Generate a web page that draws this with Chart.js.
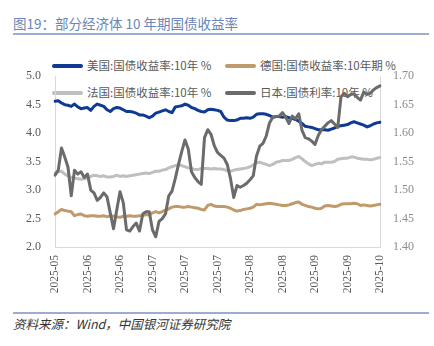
<!DOCTYPE html>
<html>
<head>
<meta charset="utf-8">
<script src="https://cdn.jsdelivr.net/npm/chart.js"></script>
<style>
  body { margin: 0; width: 434px; height: 346px; background: #fff; position: relative; overflow: hidden; font-family: "Noto Sans CJK SC", sans-serif; }
  #title { position: absolute; left: 13px; top: 13px; font-size: 13.5px; color: #6a85b6; white-space: nowrap; }
  #titleLine { position: absolute; left: 13px; top: 33px; width: 416px; height: 2px; background: #9aaed2; }
  #footLine { position: absolute; left: 13px; top: 312px; width: 416px; height: 2px; background: #9aaed2; }
  #foot { position: absolute; left: 13px; top: 314px; font-size: 12.5px; color: #333; font-style: italic; white-space: nowrap; }
  .lg { position: absolute; font-size: 11.5px; color: #595959; white-space: nowrap; z-index: 0; }
  .lg i { display: inline-block; width: 31px; height: 4px; border-radius: 2px; vertical-align: middle; margin-right: 4px; position: relative; top: -1px; }
  #wrap { position: absolute; left: 0; top: 55px; width: 434px; height: 250px; z-index: 1; }
</style>
</head>
<body>
<div id="title">图19：部分经济体 10 年期国债收益率</div>
<div id="titleLine"></div>

<div class="lg" style="left:52px; top:57px;"><i style="background:#0e3a92"></i>美国:国债收益率:10年 %</div>
<div class="lg" style="left:225px; top:57px;"><i style="background:#c09a6b"></i>德国:国债收益率:10年期 %</div>
<div class="lg" style="left:52px; top:84px;"><i style="background:#bfbfbf"></i>法国:国债收益率:10年 %</div>
<div class="lg" style="left:225px; top:84px;"><i style="background:#6b6b6b"></i>日本:国债利率:10年 %</div>

<div id="wrap"><canvas id="chart"></canvas></div>

<div id="footLine"></div>
<div id="foot">资料来源：Wind，中国银河证券研究院</div>

<script>
// tick labels shown along the x axis (one every 10 trading days)
var tickLabels = ["2025-05","2025-06","2025-06","2025-07","2025-07","2025-07","2025-08","2025-08","2025-09","2025-09","2025-10"];

var usYield = [4.56,4.57,4.53,4.50,4.49,4.47,4.51,4.46,4.43,4.44,
  4.45,4.40,4.47,4.51,4.49,4.47,4.41,4.38,4.43,4.45,
  4.44,4.41,4.38,4.38,4.37,4.35,4.32,4.32,4.30,4.27,
  4.30,4.35,4.37,4.39,4.41,4.38,4.36,4.46,4.47,4.48,
  4.51,4.49,4.45,4.43,4.40,4.38,4.37,4.41,4.42,4.41,
  4.40,4.38,4.28,4.23,4.22,4.22,4.23,4.26,4.26,4.27,
  4.26,4.28,4.33,4.34,4.34,4.33,4.31,4.28,4.29,4.29,
  4.28,4.29,4.27,4.26,4.24,4.21,4.17,4.12,4.11,4.10,
  4.08,4.06,4.06,4.06,4.05,4.07,4.09,4.12,4.13,4.14,
  4.15,4.18,4.20,4.18,4.16,4.14,4.11,4.13,4.16,4.18,4.19];

var deYield = [2.58,2.62,2.66,2.64,2.63,2.62,2.55,2.57,2.58,2.55,
  2.54,2.55,2.55,2.54,2.54,2.55,2.53,2.55,2.54,2.53,
  2.52,2.54,2.54,2.55,2.54,2.54,2.55,2.55,2.57,2.56,
  2.60,2.62,2.60,2.62,2.65,2.67,2.70,2.71,2.71,2.70,
  2.70,2.71,2.70,2.69,2.68,2.66,2.65,2.73,2.75,2.72,
  2.71,2.71,2.71,2.70,2.68,2.65,2.63,2.64,2.66,2.67,
  2.68,2.70,2.75,2.74,2.75,2.76,2.77,2.76,2.75,2.74,
  2.73,2.73,2.74,2.76,2.78,2.79,2.75,2.73,2.71,2.70,
  2.68,2.67,2.68,2.72,2.73,2.72,2.71,2.72,2.75,2.76,
  2.76,2.76,2.77,2.76,2.73,2.74,2.73,2.72,2.73,2.74,2.75];

var frYield = [3.30,3.32,3.33,3.28,3.25,3.22,3.21,3.20,3.19,3.20,
  3.21,3.24,3.26,3.25,3.24,3.25,3.23,3.23,3.24,3.26,
  3.24,3.25,3.24,3.25,3.26,3.27,3.28,3.29,3.30,3.29,
  3.31,3.33,3.33,3.35,3.36,3.39,3.41,3.43,3.44,3.43,
  3.41,3.39,3.38,3.36,3.36,3.38,3.38,3.38,3.37,3.38,
  3.37,3.37,3.36,3.34,3.33,3.35,3.36,3.37,3.38,3.39,
  3.41,3.44,3.48,3.49,3.47,3.45,3.43,3.45,3.49,3.50,
  3.52,3.52,3.52,3.54,3.57,3.59,3.55,3.50,3.46,3.43,
  3.45,3.47,3.46,3.49,3.49,3.49,3.50,3.54,3.55,3.56,
  3.56,3.58,3.58,3.56,3.55,3.54,3.54,3.53,3.54,3.56,3.57];

var jpYield = [1.526,1.535,1.574,1.558,1.540,1.490,1.535,1.528,1.532,1.522,
  1.528,1.500,1.495,1.482,1.487,1.495,1.488,1.460,1.432,1.465,
  1.497,1.478,1.430,1.428,1.436,1.442,1.428,1.458,1.462,1.462,
  1.430,1.418,1.445,1.450,1.458,1.490,1.498,1.520,1.545,1.568,
  1.588,1.572,1.532,1.522,1.515,1.510,1.592,1.606,1.598,1.578,
  1.566,1.561,1.556,1.545,1.520,1.487,1.508,1.505,1.508,1.512,
  1.518,1.525,1.560,1.577,1.582,1.595,1.618,1.628,1.629,1.630,
  1.636,1.628,1.617,1.630,1.625,1.634,1.605,1.592,1.590,1.586,
  1.580,1.596,1.606,1.612,1.618,1.622,1.616,1.610,1.664,1.670,
  1.664,1.668,1.669,1.663,1.658,1.672,1.668,1.670,1.676,1.680,1.683];

var categories = usYield.map(function (v, i) {
  return i % 10 === 0 ? tickLabels[i / 10] : "";
});

function line(label, data, color, axis, order) {
  return {
    label: label, data: data, yAxisID: axis, order: order,
    borderColor: color, backgroundColor: color,
    borderWidth: 3, pointRadius: 0, tension: 0, fill: false,
    borderJoinStyle: "round", borderCapStyle: "round"
  };
}

var tickFont = { family: "'Liberation Serif', 'Times New Roman', serif", size: 12 };

new Chart(document.getElementById("chart"), {
  type: "line",
  data: {
    labels: categories,
    datasets: [
      line("日本:国债利率:10年 %", jpYield, "#6b6b6b", "y1", 0),
      line("美国:国债收益率:10年 %", usYield, "#0e3a92", "y", 1),
      line("德国:国债收益率:10年期 %", deYield, "#c09a6b", "y", 2),
      line("法国:国债收益率:10年 %", frYield, "#bfbfbf", "y", 3)
    ]
  },
  options: {
    responsive: true,
    maintainAspectRatio: false,
    devicePixelRatio: 1,
    animation: false,
    layout: { padding: { top: 10, right: 0, left: 0, bottom: 0 } },
    plugins: { legend: { display: false }, tooltip: { enabled: false } },
    scales: {
      x: {
        offset: false,
        grid: { display: false, drawTicks: false },
        border: { display: true, color: "#d9d9d9", width: 1 },
        ticks: {
          autoSkip: false, minRotation: 90, maxRotation: 90, padding: 8,
          color: "#595959", font: { family: tickFont.family, size: 11.5 }
        },
        afterFit: function (s) { s.height = 58; }
      },
      y: {
        position: "left", min: 2.0, max: 5.0,
        grid: { display: false, drawTicks: false },
        border: { display: true, color: "#d9d9d9", width: 1 },
        ticks: {
          stepSize: 0.5, padding: 14, color: "#595959", font: tickFont,
          callback: function (v) { return v.toFixed(1); }
        },
        afterFit: function (s) { s.width = 55; }
      },
      y1: {
        position: "right", min: 1.40, max: 1.70,
        grid: { display: false, drawTicks: false },
        border: { display: true, color: "#d9d9d9", width: 1 },
        ticks: {
          stepSize: 0.05, padding: 13, color: "#8c8c8c", font: tickFont,
          callback: function (v) { return v.toFixed(2); }
        },
        afterFit: function (s) { s.width = 54; }
      }
    }
  }
});
</script>
</body>
</html>
